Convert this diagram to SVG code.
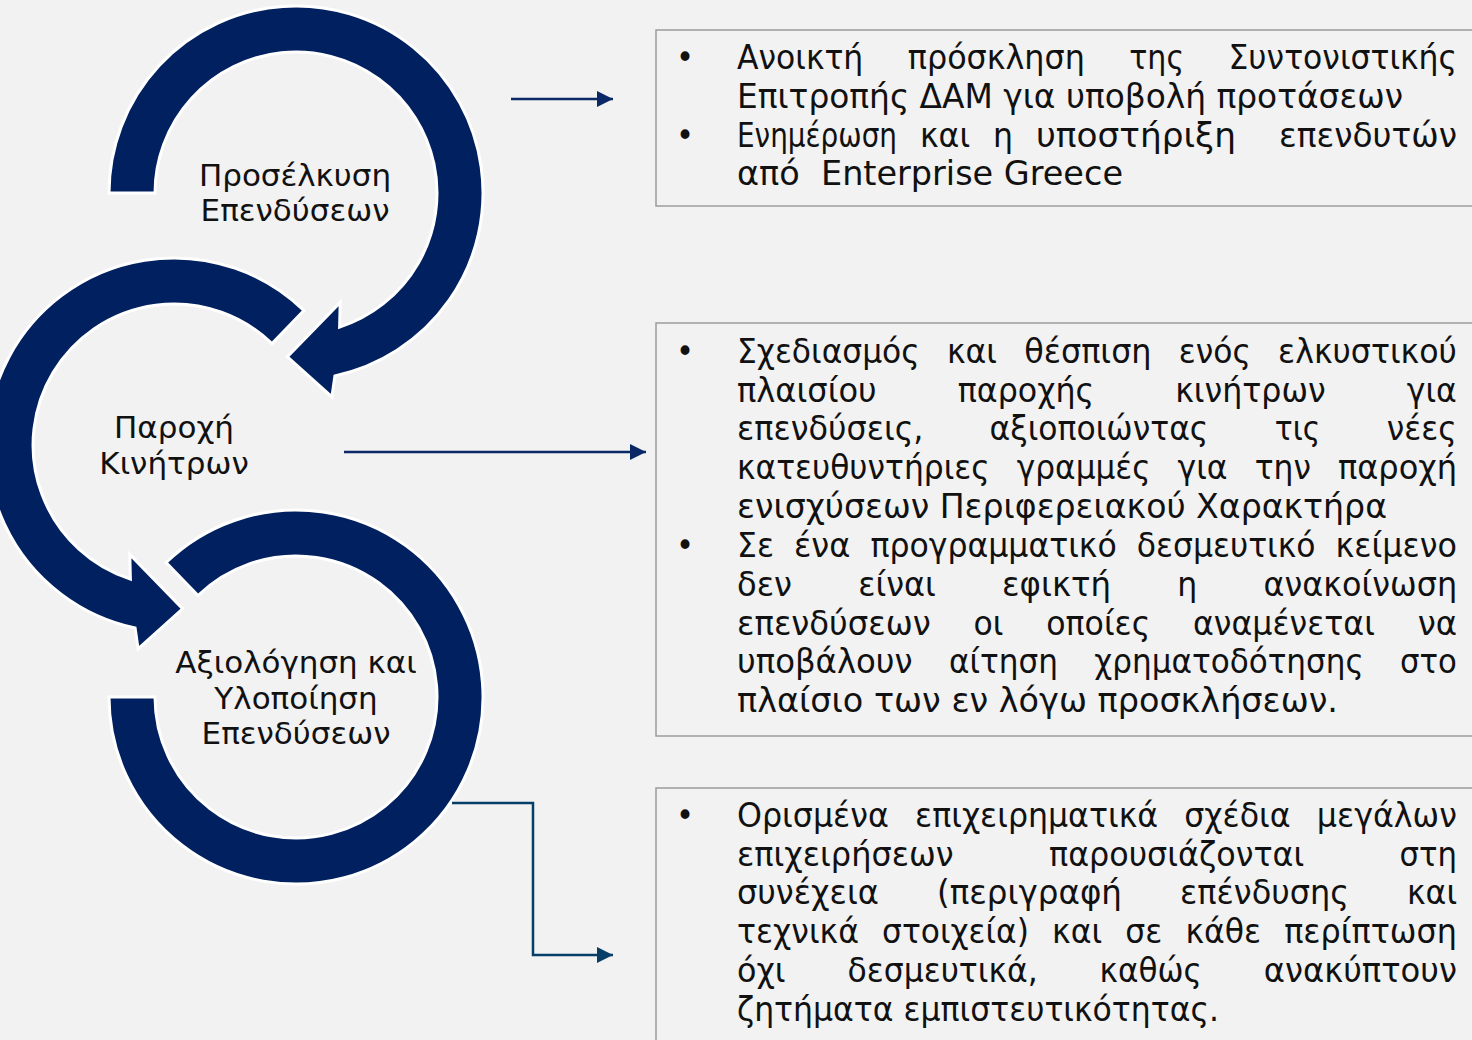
<svg xmlns="http://www.w3.org/2000/svg" width="1472" height="1040" viewBox="0 0 1472 1040">
<style>
.arc{fill:#002060;stroke:#ffffff;stroke-width:3;stroke-linejoin:miter}
.lbl{font-family:"DejaVu Sans","Liberation Sans",sans-serif;font-size:31px;fill:#111;text-anchor:middle}
.box{fill:#f2f2f2;stroke:#9c9c9c;stroke-width:1.5}
.t{font-family:"DejaVu Sans Condensed","DejaVu Sans","Liberation Sans",sans-serif;font-stretch:condensed;font-size:34px;fill:#111;white-space:pre}
.c1{fill:none;stroke:#0a2766;stroke-width:2.5}
.c2{fill:none;stroke:#073e68;stroke-width:2.5}
</style>
<defs>
<marker id="ah1" viewBox="0 0 16 16" refX="16" refY="8" markerWidth="16" markerHeight="16" markerUnits="userSpaceOnUse" orient="auto"><path d="M0,0 L16,8 L0,16 Z" fill="#0a2766"/></marker>
<marker id="ah2" viewBox="0 0 16 16" refX="16" refY="8" markerWidth="16" markerHeight="16" markerUnits="userSpaceOnUse" orient="auto"><path d="M0,0 L16,8 L0,16 Z" fill="#073e68"/></marker>
</defs>
<rect x="0" y="0" width="1472" height="1040" fill="#f2f2f2"/>

<g id="node-aksiologisi">
<path class="arc" d="M166.1,562.5 A187,187 0 1 1 109,697 L155,697 A141,141 0 1 0 198,595.6 Z"/>
<text class="lbl" x="296" y="673">Αξιολόγηση και</text>
<text class="lbl" x="296" y="709">Υλοποίηση</text>
<text class="lbl" x="296" y="744">Επενδύσεων</text>
</g>

<g id="node-paroxi">
<path class="arc" d="M303.9,310.5 A187,187 0 1 0 135.1,627.9 L138.1,648.9 L182.6,608.8 L129.8,554.4 L130.4,579.1 A141,141 0 1 1 272,343.6 Z"/>
<text class="lbl" x="174" y="438">Παροχή</text>
<text class="lbl" x="174" y="474">Κινήτρων</text>
</g>

<g id="node-proselkysi">
<path class="arc" d="M109,193 A187,187 0 1 1 334.9,375.9 L331.9,396.9 L287.4,356.8 L340.2,302.4 L339.6,327.1 A141,141 0 1 0 155,193 Z"/>
<text class="lbl" x="295" y="186">Προσέλκυση</text>
<text class="lbl" x="295" y="221">Επενδύσεων</text>
</g>

<g id="connectors">
<path class="c1" d="M511,99 H613" marker-end="url(#ah1)"/>
<path class="c1" d="M344,452 H646" marker-end="url(#ah1)"/>
<path class="c2" d="M452,803 H533 V955 H613" marker-end="url(#ah2)"/>
</g>

<g id="box-1">
<rect class="box" x="656" y="30" width="830" height="176"/>
<text class="t" x="676" y="69">•</text>
<text class="t" x="737" y="69" textLength="126.3" lengthAdjust="spacingAndGlyphs">Ανοικτή</text>
<text class="t" x="907.8" y="69" textLength="177" lengthAdjust="spacingAndGlyphs">πρόσκληση</text>
<text class="t" x="1129.3" y="69" textLength="54.7" lengthAdjust="spacingAndGlyphs">της</text>
<text class="t" x="1228.5" y="69" textLength="228.5" lengthAdjust="spacingAndGlyphs">Συντονιστικής</text>
<text class="t" x="737" y="108" textLength="666" lengthAdjust="spacingAndGlyphs">Επιτροπής ΔΑΜ για υποβολή προτάσεων</text>
<text class="t" x="676" y="147">•</text>
<text class="t" x="737" y="147" textLength="160" lengthAdjust="spacingAndGlyphs">Ενημέρωση</text>
<text class="t" x="920" y="147" textLength="50.1" lengthAdjust="spacingAndGlyphs">και</text>
<text class="t" x="993" y="147" textLength="20" lengthAdjust="spacingAndGlyphs">η</text>
<text class="t" x="1036" y="147" textLength="200" lengthAdjust="spacingAndGlyphs">υποστήριξη</text>
<text class="t" x="1279" y="147" textLength="178" lengthAdjust="spacingAndGlyphs">επενδυτών</text>
<text class="t" x="737" y="185" textLength="386" lengthAdjust="spacingAndGlyphs">από  Enterprise Greece</text>
</g>

<g id="box-2">
<rect class="box" x="656" y="323" width="830" height="413"/>
<text class="t" x="676" y="363">•</text>
<text class="t" x="737" y="363" textLength="182.7" lengthAdjust="spacingAndGlyphs">Σχεδιασμός</text>
<text class="t" x="946.9" y="363" textLength="50.1" lengthAdjust="spacingAndGlyphs">και</text>
<text class="t" x="1024.2" y="363" textLength="127.4" lengthAdjust="spacingAndGlyphs">θέσπιση</text>
<text class="t" x="1178.8" y="363" textLength="72.1" lengthAdjust="spacingAndGlyphs">ενός</text>
<text class="t" x="1278.1" y="363" textLength="178.8" lengthAdjust="spacingAndGlyphs">ελκυστικού</text>

<text class="t" x="737" y="402" textLength="139.7" lengthAdjust="spacingAndGlyphs">πλαισίου</text>
<text class="t" x="957.8" y="402" textLength="136.3" lengthAdjust="spacingAndGlyphs">παροχής</text>
<text class="t" x="1175.2" y="402" textLength="150.5" lengthAdjust="spacingAndGlyphs">κινήτρων</text>
<text class="t" x="1406.8" y="402" textLength="50.1" lengthAdjust="spacingAndGlyphs">για</text>

<text class="t" x="737" y="440" textLength="186.5" lengthAdjust="spacingAndGlyphs">επενδύσεις,</text>
<text class="t" x="989.5" y="440" textLength="218.8" lengthAdjust="spacingAndGlyphs">αξιοποιώντας</text>
<text class="t" x="1274.8" y="440" textLength="45.4" lengthAdjust="spacingAndGlyphs">τις</text>
<text class="t" x="1386.7" y="440" textLength="69.9" lengthAdjust="spacingAndGlyphs">νέες</text>

<text class="t" x="737" y="479" textLength="252.7" lengthAdjust="spacingAndGlyphs">κατευθυντήριες</text>
<text class="t" x="1016.8" y="479" textLength="133.7" lengthAdjust="spacingAndGlyphs">γραμμές</text>
<text class="t" x="1177.5" y="479" textLength="50.1" lengthAdjust="spacingAndGlyphs">για</text>
<text class="t" x="1254.7" y="479" textLength="56.2" lengthAdjust="spacingAndGlyphs">την</text>
<text class="t" x="1337.9" y="479" textLength="119.2" lengthAdjust="spacingAndGlyphs">παροχή</text>

<text class="t" x="737" y="518" textLength="650" lengthAdjust="spacingAndGlyphs">ενισχύσεων Περιφερειακού Χαρακτήρα</text>

<text class="t" x="676" y="557">•</text>
<text class="t" x="737" y="557" textLength="36.9" lengthAdjust="spacingAndGlyphs">Σε</text>
<text class="t" x="794" y="557" textLength="56.4" lengthAdjust="spacingAndGlyphs">ένα</text>
<text class="t" x="870.5" y="557" textLength="246.2" lengthAdjust="spacingAndGlyphs">προγραμματικό</text>
<text class="t" x="1136.8" y="557" textLength="178.7" lengthAdjust="spacingAndGlyphs">δεσμευτικό</text>
<text class="t" x="1335.6" y="557" textLength="121.3" lengthAdjust="spacingAndGlyphs">κείμενο</text>

<text class="t" x="737" y="596" textLength="55" lengthAdjust="spacingAndGlyphs">δεν</text>
<text class="t" x="858.2" y="596" textLength="77.7" lengthAdjust="spacingAndGlyphs">είναι</text>
<text class="t" x="1002.1" y="596" textLength="109" lengthAdjust="spacingAndGlyphs">εφικτή</text>
<text class="t" x="1177.3" y="596" textLength="20" lengthAdjust="spacingAndGlyphs">η</text>
<text class="t" x="1263.5" y="596" textLength="193.7" lengthAdjust="spacingAndGlyphs">ανακοίνωση</text>

<text class="t" x="737" y="635" textLength="193.8" lengthAdjust="spacingAndGlyphs">επενδύσεων</text>
<text class="t" x="973.6" y="635" textLength="29.9" lengthAdjust="spacingAndGlyphs">οι</text>
<text class="t" x="1046.3" y="635" textLength="103.9" lengthAdjust="spacingAndGlyphs">οποίες</text>
<text class="t" x="1193" y="635" textLength="181.9" lengthAdjust="spacingAndGlyphs">αναμένεται</text>
<text class="t" x="1417.7" y="635" textLength="39.4" lengthAdjust="spacingAndGlyphs">να</text>

<text class="t" x="737" y="673" textLength="175.6" lengthAdjust="spacingAndGlyphs">υποβάλουν</text>
<text class="t" x="949" y="673" textLength="108.9" lengthAdjust="spacingAndGlyphs">αίτηση</text>
<text class="t" x="1094.3" y="673" textLength="269.4" lengthAdjust="spacingAndGlyphs">χρηματοδότησης</text>
<text class="t" x="1400.1" y="673" textLength="56.8" lengthAdjust="spacingAndGlyphs">στο</text>

<text class="t" x="737" y="712" textLength="601" lengthAdjust="spacingAndGlyphs">πλαίσιο των εν λόγω προσκλήσεων.</text>
</g>

<g id="box-3">
<rect class="box" x="656" y="788" width="830" height="270"/>
<text class="t" x="676" y="827">•</text>
<text class="t" x="737" y="827" textLength="151.9" lengthAdjust="spacingAndGlyphs">Ορισμένα</text>
<text class="t" x="915.1" y="827" textLength="243" lengthAdjust="spacingAndGlyphs">επιχειρηματικά</text>
<text class="t" x="1184.3" y="827" textLength="106.3" lengthAdjust="spacingAndGlyphs">σχέδια</text>
<text class="t" x="1316.8" y="827" textLength="140.1" lengthAdjust="spacingAndGlyphs">μεγάλων</text>

<text class="t" x="737" y="866" textLength="216.6" lengthAdjust="spacingAndGlyphs">επιχειρήσεων</text>
<text class="t" x="1049" y="866" textLength="255.2" lengthAdjust="spacingAndGlyphs">παρουσιάζονται</text>
<text class="t" x="1399.6" y="866" textLength="57.5" lengthAdjust="spacingAndGlyphs">στη</text>

<text class="t" x="737" y="904" textLength="141.9" lengthAdjust="spacingAndGlyphs">συνέχεια</text>
<text class="t" x="937" y="904" textLength="185" lengthAdjust="spacingAndGlyphs">(περιγραφή</text>
<text class="t" x="1180.1" y="904" textLength="168.8" lengthAdjust="spacingAndGlyphs">επένδυσης</text>
<text class="t" x="1407" y="904" textLength="50.1" lengthAdjust="spacingAndGlyphs">και</text>

<text class="t" x="737" y="943" textLength="122" lengthAdjust="spacingAndGlyphs">τεχνικά</text>
<text class="t" x="882.1" y="943" textLength="146.9" lengthAdjust="spacingAndGlyphs">στοιχεία)</text>
<text class="t" x="1052.1" y="943" textLength="50.1" lengthAdjust="spacingAndGlyphs">και</text>
<text class="t" x="1125.3" y="943" textLength="37" lengthAdjust="spacingAndGlyphs">σε</text>
<text class="t" x="1185.4" y="943" textLength="75.7" lengthAdjust="spacingAndGlyphs">κάθε</text>
<text class="t" x="1284.2" y="943" textLength="172.7" lengthAdjust="spacingAndGlyphs">περίπτωση</text>

<text class="t" x="737" y="982" textLength="48.6" lengthAdjust="spacingAndGlyphs">όχι</text>
<text class="t" x="847.5" y="982" textLength="190.2" lengthAdjust="spacingAndGlyphs">δεσμευτικά,</text>
<text class="t" x="1099.6" y="982" textLength="102.2" lengthAdjust="spacingAndGlyphs">καθώς</text>
<text class="t" x="1263.7" y="982" textLength="193.2" lengthAdjust="spacingAndGlyphs">ανακύπτουν</text>

<text class="t" x="737" y="1021" textLength="482" lengthAdjust="spacingAndGlyphs">ζητήματα εμπιστευτικότητας.</text>
</g>
</svg>
